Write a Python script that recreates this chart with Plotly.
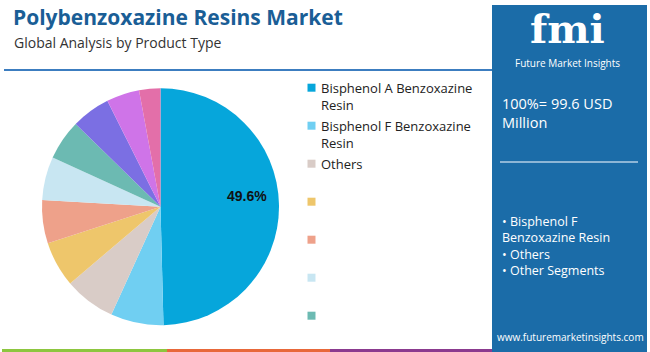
import plotly.graph_objects as go

# ---- data ----
labels = ["Bisphenol A Benzoxazine Resin", "Bisphenol F Benzoxazine Resin", "Others",
          "Seg 4", "Seg 5", "Seg 6", "Seg 7", "Seg 8", "Seg 9", "Seg 10"]
legend_labels = ["Bisphenol A Benzoxazine<br>Resin", "Bisphenol F Benzoxazine<br>Resin", "Others",
                 "", "", "", ""]
values = [49.6, 7.2, 7.0, 6.2, 5.9, 5.9, 5.5, 5.3, 4.5, 2.9]
colors = ["#06A6DB", "#70CFF2", "#D9CCC7", "#EEC66B", "#EEA18A",
          "#C8E6F2", "#6CBAB2", "#7B6FE3", "#CF74E8", "#E36FA9"]
total_text = "100%= 99.6 USD<br>Million"
bullets = "• Bisphenol F<br>Benzoxazine Resin<br>• Others<br>• Other Segments"

W, H = 650, 352
FONT = "Open Sans"

fig = go.Figure()

cx, cy, r = 160.5, 206.7, 118.5
fig.add_trace(go.Pie(
    labels=labels, values=values, sort=False, direction="clockwise", rotation=0,
    marker=dict(colors=colors, line=dict(width=0)),
    textinfo="none",
    domain=dict(x=[(cx - r) / W, (cx + r) / W], y=[1 - (cy + r) / H, 1 - (cy - r) / H]),
    showlegend=False, hoverinfo="label+percent",
))

shapes = []
annotations = []

def px(x):
    return x / W

def py(y):
    return 1 - y / H

# label of the largest slice
annotations.append(dict(text=f"<b>{values[0]}%</b>", x=px(247), y=py(196), xref="paper", yref="paper",
                        xanchor="center", yanchor="middle", showarrow=False,
                        font=dict(family="Arial", size=14, color="#111111")))

# header line
shapes.append(dict(type="line", xref="paper", yref="paper", x0=px(4), x1=px(492), y0=py(70), y1=py(70),
                   line=dict(color="#3C7DC0", width=2)))
# bottom colour bar
for x0, x1, c in [(2, 167, "#8DC63F"), (167, 330, "#E8683A"), (330, 492, "#8B3A8F")]:
    shapes.append(dict(type="rect", xref="paper", yref="paper", x0=px(x0), x1=px(x1), y0=py(352), y1=py(349),
                       fillcolor=c, line=dict(width=0)))
# right panel
shapes.append(dict(type="rect", xref="paper", yref="paper", x0=px(492), x1=px(647), y0=py(352), y1=py(5),
                   fillcolor="#1B6CA8", line=dict(width=0), layer="below"))
shapes.append(dict(type="line", xref="paper", yref="paper", x0=px(500), x1=px(638), y0=py(162), y1=py(162),
                   line=dict(color="#B5CFE6", width=1.5)))

# title
annotations.append(dict(text="<b>Polybenzoxazine Resins Market</b>", x=px(11), y=py(16.5), xref="paper", yref="paper",
                        xanchor="left", yanchor="middle", showarrow=False,
                        font=dict(family=FONT, size=21, color="#1A5E96")))
annotations.append(dict(text="Global Analysis by Product Type", x=px(12), y=py(42), xref="paper", yref="paper",
                        xanchor="left", yanchor="middle", showarrow=False,
                        font=dict(family=FONT, size=14, color="#333333")))

# manual legend
for i, lab in enumerate(legend_labels):
    yc = 87.7 + i * 38.0
    shapes.append(dict(type="rect", xref="paper", yref="paper", x0=px(307.5), x1=px(315.5),
                       y0=py(yc + 4), y1=py(yc - 4), fillcolor=colors[i], line=dict(width=0)))
    if lab:
        annotations.append(dict(text=lab, x=px(319), y=py(yc - 11), xref="paper", yref="paper",
                                xanchor="left", yanchor="top", align="left", showarrow=False,
                                font=dict(family=FONT, size=13, color="#222222")))

# panel texts
annotations.append(dict(text="<b>fmi</b>", x=px(567), y=py(28), xref="paper", yref="paper",
                        xanchor="center", yanchor="middle", showarrow=False,
                        font=dict(family="DejaVu Serif", size=40, color="white")))
annotations.append(dict(text="Future Market Insights", x=px(567), y=py(63), xref="paper", yref="paper",
                        xanchor="center", yanchor="middle", showarrow=False,
                        font=dict(family=FONT, size=10, color="white")))
annotations.append(dict(text=total_text, x=px(500), y=py(113), xref="paper", yref="paper",
                        xanchor="left", yanchor="middle", align="left", showarrow=False,
                        font=dict(family=FONT, size=14.5, color="white")))
annotations.append(dict(text=bullets, x=px(500), y=py(246), xref="paper", yref="paper",
                        xanchor="left", yanchor="middle", align="left", showarrow=False,
                        font=dict(family=FONT, size=12.5, color="white")))
annotations.append(dict(text="www.futuremarketinsights.com", x=px(570), y=py(337), xref="paper", yref="paper",
                        xanchor="center", yanchor="middle", showarrow=False,
                        font=dict(family=FONT, size=10, color="white")))

fig.update_layout(
    width=W, height=H, margin=dict(l=0, r=0, t=0, b=0),
    paper_bgcolor="white", plot_bgcolor="white",
    shapes=shapes, annotations=annotations, showlegend=False,
)

fig.write_html("out.html")
